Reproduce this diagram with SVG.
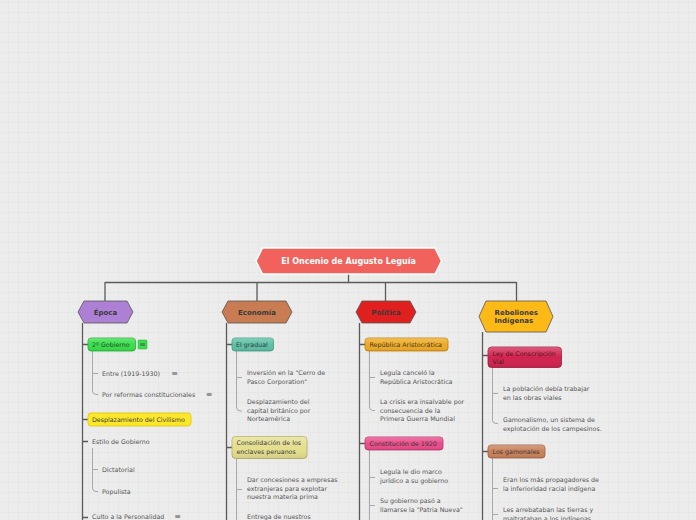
<svg xmlns="http://www.w3.org/2000/svg" width="696" height="520" viewBox="0 0 696 520">
<defs>
<pattern id="grid" x="8" y="2" width="10" height="10" patternUnits="userSpaceOnUse">
<rect width="10" height="10" fill="#ececec"/>
<path d="M0 0H10M0 0V10" stroke="#e2e2e2" stroke-width="1" fill="none"/>
</pattern>
<linearGradient id="shine" x1="0" y1="0" x2="0" y2="1">
<stop offset="0" stop-color="#fff" stop-opacity="0.25"/>
<stop offset="0.5" stop-color="#fff" stop-opacity="0"/>
<stop offset="1" stop-color="#000" stop-opacity="0.08"/>
</linearGradient>
</defs>
<style>
text{font-family:"DejaVu Sans","Liberation Sans",sans-serif;}
.t{font-size:6.3px;fill:#555;}
.bt{font-size:6.3px;fill:#3a3a3a;}
.h{font-size:7px;font-weight:bold;fill:#3a3a3a;}
.main{stroke:#5a5a5a;stroke-width:1.3;fill:none;}
.sub{stroke:#a8a8a8;stroke-width:1;fill:none;}
.hex{stroke:#555;stroke-width:0.8;}
.box{stroke-width:0.8;}
.ic{font-size:8px;fill:#555;}
</style>
<rect width="696" height="520" fill="url(#grid)"/>

<g id="connectors">
<path class="main" d="M348.5 274V282.5M105 282.5H516.5M105 282V301M257 282V301M385.5 282V301M516.5 282V301"/>
<path class="main" d="M82.5 323V520M82.5 344.5H88M82.5 419.5H88M82.5 441.5H88M82.5 517.5H88"/>
<path class="sub" d="M92.5 351V391Q92.5 394.5 96 394.5H98M92.5 373.5H98"/>
<path class="sub" d="M92.5 448V488Q92.5 491.5 96 491.5H98M92.5 469.5H98"/>
<path class="main" d="M226.5 323V520M226.5 344.5H232M226.5 447.5H232"/>
<path class="sub" d="M236.5 351V407Q236.5 411 240 411H242M236.5 377.5H242"/>
<path class="sub" d="M236.5 458V520M236.5 489.5H242"/>
<path class="main" d="M359.5 323V520M359.5 344.5H365M359.5 443.5H365"/>
<path class="sub" d="M369.5 351V407Q369.5 410.5 373 410.5H375M369.5 377.5H375"/>
<path class="sub" d="M369.5 450V520M369.5 477.5H375M369.5 505.5H375"/>
<path class="main" d="M482.5 332V520M482.5 355.5H488M482.5 451.5H488"/>
<path class="sub" d="M492.5 367V420Q492.5 423.5 496 423.5H498M492.5 393.5H498"/>
<path class="sub" d="M492.5 458V520M492.5 488.5H498M492.5 514.5H498"/>
</g>

<g id="root">
<polygon points="256,261 262.5,248 435,248 441.5,261 435,274 262.5,274" fill="#f0625b" stroke="#ffffff" stroke-width="1.5"/>
<text x="348.5" y="264" text-anchor="middle" style="font-size:8px;font-weight:bold;fill:#fff">El Oncenio de Augusto Leguía</text>
</g>

<g id="epoca">
<polygon class="hex" points="78,312 84,301 127,301 133,312 127,323 84,323" fill="#ae80d5"/>
<text class="h" x="105.5" y="315" text-anchor="middle">Época</text>
</g>
<g id="segundo-gobierno">
<rect class="box" x="88" y="338" width="47.5" height="13" rx="3" fill="#36e048" stroke="#2aa838"/>
<rect x="88" y="338" width="47.5" height="13" rx="3" fill="url(#shine)"/>
<text class="bt" x="92" y="346.8">2º Gobierno</text>
<rect x="138" y="340" width="9" height="9" rx="1" fill="#36e048" stroke="#2aa838" stroke-width="0.5"/>
<text class="ic" x="142.5" y="347.3" text-anchor="middle">≡</text>
</g>
<g id="entre"><text class="t" x="102" y="375.5">Entre (1919-1930)</text><text class="ic" x="174.5" y="376.3" text-anchor="middle">≡</text></g>
<g id="reformas"><text class="t" x="102" y="396.5">Por reformas constitucionales</text><text class="ic" x="209" y="397.3" text-anchor="middle">≡</text></g>
<g id="desplazamiento-civilismo">
<rect class="box" x="88" y="413" width="103" height="13" rx="3" fill="#fde72a" stroke="#e0c800"/>
<text class="bt" x="92" y="421.8">Desplazamiento del Civilismo</text>
</g>
<g id="estilo"><text class="t" x="92" y="443.5">Estilo de Gobierno</text></g>
<g id="dictatorial"><text class="t" x="102" y="471.5">Dictatorial</text></g>
<g id="populista"><text class="t" x="102" y="493.5">Populista</text></g>
<g id="culto"><text class="t" x="92" y="519">Culto a la Personalidad</text><text class="ic" x="177.5" y="519" text-anchor="middle">≡</text></g>

<g id="economia">
<polygon class="hex" points="222,312 228,301 286,301 292,312 286,323 228,323" fill="#c97b51"/>
<text class="h" x="257" y="315" text-anchor="middle">Economía</text>
</g>
<g id="el-gradual">
<rect class="box" x="232" y="338" width="41.5" height="13" rx="3" fill="#5cc0a6" stroke="#3c9a82"/>
<rect x="232" y="338" width="41.5" height="13" rx="3" fill="url(#shine)"/>
<text class="bt" x="236" y="346.8">El gradual</text>
</g>
<g id="inversion"><text class="t" x="247" y="375">Inversión en la "Cerro de</text><text class="t" x="247" y="383.5"> Pasco Corporation"</text></g>
<g id="desplazamiento-capital"><text class="t" x="247" y="404">Desplazamiento del</text><text class="t" x="247" y="412.5">capital británico por</text><text class="t" x="247" y="421">Norteamérica</text></g>
<g id="consolidacion">
<rect class="box" x="232" y="436.5" width="75" height="22" rx="3.5" fill="#e4de8e" stroke="#b0a860"/>
<rect x="232" y="436.5" width="75" height="22" rx="3.5" fill="url(#shine)"/>
<text class="bt" x="236.5" y="445">Consolidación de los</text>
<text class="bt" x="236.5" y="453.5">enclaves peruanos</text>
</g>
<g id="concesiones"><text class="t" x="247" y="482">Dar concesiones a empresas</text><text class="t" x="247" y="490.5">extranjeras para explotar</text><text class="t" x="247" y="499"> nuestra materia prima</text></g>
<g id="entrega"><text class="t" x="247" y="519">Entrega de nuestros</text></g>

<g id="politica">
<polygon class="hex" points="356,312 362,301 410,301 416,312 410,323 362,323" fill="#e01f1f"/>
<text class="h" x="386" y="315" text-anchor="middle">Política</text>
</g>
<g id="republica">
<rect class="box" x="365" y="338" width="83" height="13" rx="3" fill="#efaa22" stroke="#c08010"/>
<rect x="365" y="338" width="83" height="13" rx="3" fill="url(#shine)"/>
<text class="bt" x="369.5" y="346.8">República Aristocrática</text>
</g>
<g id="cancelo"><text class="t" x="380" y="375">Leguía canceló la</text><text class="t" x="380" y="383.5">República Aristocrática</text></g>
<g id="crisis"><text class="t" x="380" y="404">La crisis era insalvable por</text><text class="t" x="380" y="412.5">consecuencia de la</text><text class="t" x="380" y="421">Primera Guerra Mundial</text></g>
<g id="constitucion">
<rect class="box" x="365" y="437" width="78" height="13" rx="3" fill="#e94c8a" stroke="#b83068"/>
<rect x="365" y="437" width="78" height="13" rx="3" fill="url(#shine)"/>
<text class="bt" x="369.5" y="445.8">Constitución de 1920</text>
</g>
<g id="marco"><text class="t" x="380" y="474">Leguía le dio marco</text><text class="t" x="380" y="482.5">jurídico a su gobierno</text></g>
<g id="patria"><text class="t" x="380" y="503">Su gobierno pasó a</text><text class="t" x="380" y="511.5">llamarse la "Patria Nueva"</text></g>

<g id="rebeliones">
<polygon class="hex" points="479,316.5 486,301 546,301 553,316.5 546,332 486,332" fill="#fdb915"/>
<text class="h" x="494.5" y="314.5">Rebeliones</text>
<text class="h" x="494.5" y="323">Indígenas</text>
</g>
<g id="ley">
<rect class="box" x="488" y="347" width="73.5" height="20.5" rx="3.5" fill="#d0244f" stroke="#a01838"/>
<rect x="488" y="347" width="73.5" height="20.5" rx="3.5" fill="url(#shine)"/>
<text class="bt" x="492.5" y="355.5" style="fill:#5a1020">Ley de Conscripción</text>
<text class="bt" x="492.5" y="363.5" style="fill:#5a1020">Vial</text>
</g>
<g id="poblacion"><text class="t" x="503" y="391">La población debía trabajar</text><text class="t" x="503" y="399.5">en las obras viales</text></g>
<g id="gamonalismo"><text class="t" x="503" y="422">Gamonalismo, un sistema de</text><text class="t" x="503" y="430.5">explotación de los campesinos.</text></g>
<g id="gamonales">
<rect class="box" x="488" y="445" width="57" height="13" rx="3" fill="#c8815a" stroke="#9a5a38"/>
<rect x="488" y="445" width="57" height="13" rx="3" fill="url(#shine)"/>
<text class="bt" x="492.5" y="453.8">Los gamonales</text>
</g>
<g id="propagadores"><text class="t" x="503" y="482">Eran los más propagadores de</text><text class="t" x="503" y="490.5">la inferioridad racial indígena</text></g>
<g id="arrebataban"><text class="t" x="503" y="512">Les arrebataban las tierras y</text><text class="t" x="503" y="520.5">maltrataban a los indígenas</text></g>
</svg>
